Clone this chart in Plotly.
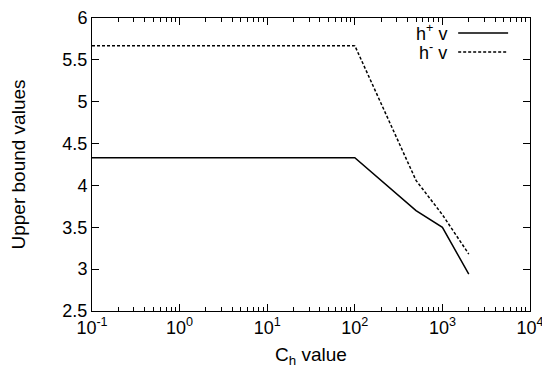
import plotly.graph_objects as go

# Data
ch_values = [0.1, 100, 500, 1000, 2000]
h_plus_v = [4.33, 4.33, 3.70, 3.50, 2.94]
h_minus_v = [5.67, 5.67, 4.06, 3.65, 3.18]

x_tickvals = [0.1, 1, 10, 100, 1000, 10000]
x_ticktext = ["10<sup>-1</sup>", "10<sup>0</sup>", "10<sup>1</sup>",
              "10<sup>2</sup>", "10<sup>3</sup>", "10<sup>4</sup>"]
y_tickvals = [2.5, 3, 3.5, 4, 4.5, 5, 5.5, 6]
y_ticktext = ["2.5", "3", "3.5", "4", "4.5", "5", "5.5", "6"]
minor_vals = [m * 10 ** k for k in range(-1, 4) for m in range(2, 10)]

legend_labels = ["h<sup>+</sup> v", "h<sup>-</sup> v"]
dashes = ["solid", "3px,2px"]

font = "Liberation Sans, Arial, Helvetica, sans-serif"

fig = go.Figure()
for ys, dash, name in zip([h_plus_v, h_minus_v], dashes, legend_labels):
    fig.add_trace(go.Scatter(x=ch_values, y=ys, mode="lines", name=name,
                             line=dict(color="black", width=1.5, dash=dash),
                             showlegend=False))

# custom gnuplot-style legend (text then sample line)
rows_y = [0.949, 0.884]
for yy, dash, name in zip(rows_y, dashes, legend_labels):
    fig.add_annotation(xref="paper", yref="paper", x=0.815, y=yy, text=name,
                       showarrow=False, xanchor="right", yanchor="middle",
                       font=dict(family=font, size=18, color="black"))
    fig.add_shape(type="line", xref="paper", yref="paper",
                  x0=0.836, x1=0.95, y0=yy, y1=yy,
                  line=dict(color="black", width=1.5, dash=dash))

axis_common = dict(showline=True, linecolor="black", linewidth=1, mirror="ticks",
                   ticks="inside", ticklen=7, tickcolor="black", showgrid=False,
                   zeroline=False, automargin=False,
                   tickfont=dict(family=font, size=18, color="black"))

fig.update_xaxes(type="log", range=[-1, 4], tickmode="array", tickvals=x_tickvals,
                 ticktext=x_ticktext,
                 title=dict(text="C<sub>h</sub> value", font=dict(family=font, size=19, color="black"), standoff=11),
                 minor=dict(tickmode="array", tickvals=minor_vals, ticks="inside",
                            ticklen=4, tickcolor="black", showgrid=False),
                 **axis_common)
fig.update_yaxes(range=[2.5, 6], tickmode="array", tickvals=y_tickvals, ticktext=y_ticktext,
                 title=dict(text="Upper bound values", font=dict(family=font, size=19, color="black"), standoff=32),
                 **axis_common)

# page body has an 8px default margin, so the figure is sized to fit the window
fig.update_layout(width=542, height=365, margin=dict(l=84, r=20, t=10, b=62),
                  plot_bgcolor="white", paper_bgcolor="white",
                  font=dict(family=font, color="black"))

fig.write_html("out.html")
